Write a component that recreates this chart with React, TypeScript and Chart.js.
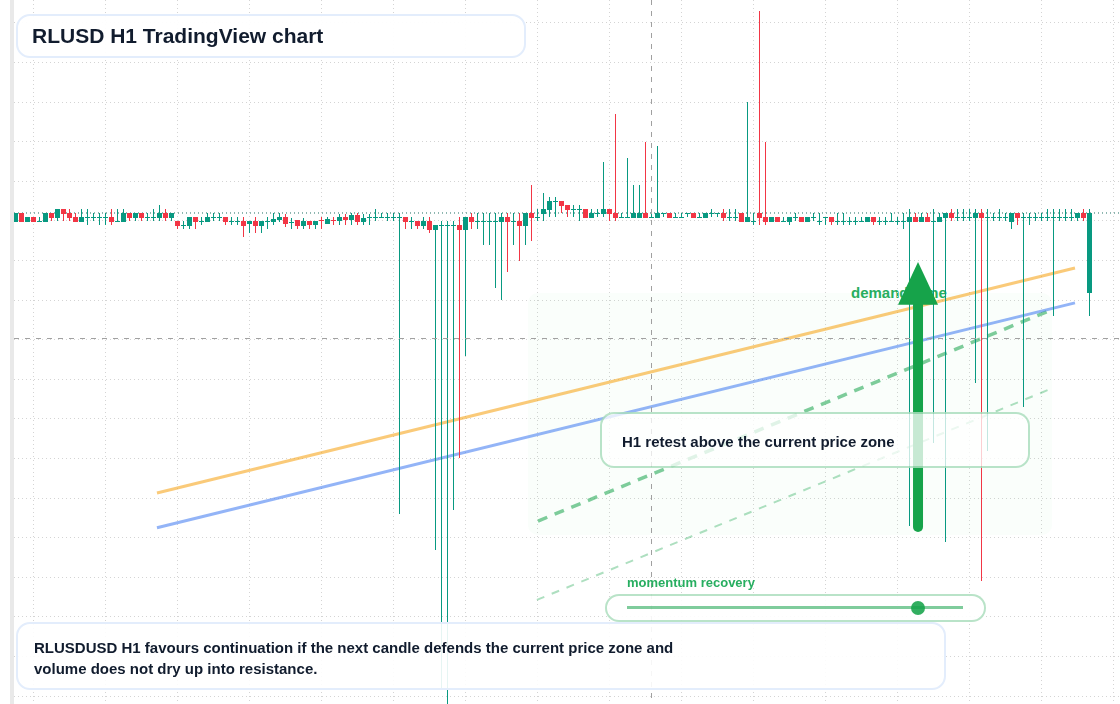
import React, { useEffect, useRef } from "react";
import { Chart, registerables } from "chart.js";

Chart.register(...registerables);

// Candle values in pips above / below 1.0000
const opens = [
  -2.25, 0, -2.25, -1, -2.25, -2.25, 0, -1.25, 1, 0,
  -1, -2.25, -1.25, -1.25, -1.25, -1.25, -1, -2.25, -2.25, 0,
  -1.25, 0, -1.25, -1.25, -1.25, 0, -1.25, -2, -3.25, -3.25,
  -1, -2.25, -2.25, -1.25, -1.25, -1, -2.25, -2.25, -2, -2.75,
  -2, -3.25, -2.25, -2.25, -1.75, -1, -2.5, -1.75, -3.25, -2,
  -3, -1.75, -2.75, -1.75, -2, -1, -1.75, -0.5, -2.25, -1.25,
  -1.25, -1.25, -1.25, -1.25, -1.25, -1, -2.25, -2, -3.25, -2,
  -4.25, -3.25, -3.25, -3.25, -3, -4.25, -1, -2.25, -2.25, -2.25,
  -2.25, -2.25, -1, -2.25, -2, -3.25, 0, -1.25, -0.25, 0.75,
  2.75, 3, 2, 0.75, 0.75, 1, -1.25, -0.25, -0.25, 1,
  0, -1.25, -1.25, -1.25, -1.25, 0, -1.25, -1.25, -0.25, 0,
  -1.25, -1.25, -0.25, 0, -1.25, -1.25, -0.25, -0.25, 0, -1.25,
  -1.25, 0, -2.25, -2.25, 0, -1, -2.25, -1, -2.25, -2.25,
  -1.25, -1, -2.25, -1.25, -2.25, -1.25, -1, -2.25, -2.25, -2.25,
  -2.25, -2.25, -2.25, -1, -2.25, -2.25, -2.25, -2.25, -2.25, -2.25,
  -1, -2.25, -1, -2.25, -2.25, -1.25, 0, -1.25, -1.25, -1.25,
  -1.25, 0, -1.25, -1.25, -1.25, -1.25, -2.25, 0, -1.25, -1.25,
  -1.25, -1.25, -1.25, -1.25, -1.25, -1.25, -1.25, -1.25, 0, -20.2,
];
const closes = [
  0, -2.25, -1, -2.25, -2, 0, -1.25, 1, -0.25, -1.25,
  -2.25, -1, -1, -1, -1, -1, -2.25, -2, 0, -1.25,
  0, -1.25, -1, -1, 0, -1.25, 0, -3.25, -3, -1,
  -2.25, -2, -1, -1, -1, -2.25, -2, -2, -3.25, -2,
  -3.25, -2, -2, -1.5, -1, -2.75, -2.25, -3.25, -2, -3,
  -2, -2, -1.5, -2, -1, -1.75, -0.5, -2.25, -1.25, -1,
  -1, -1, -1, -1, -1, -2.25, -2, -3.25, -2, -4.25,
  -3, -3, -3, -3, -4.25, -1, -2.25, -2, -2, -2,
  -2, -1, -2.25, -2, -3.25, 0, -1.25, -1, 1, 3,
  3, 1.75, 0.75, 1, 1, -1.25, 0, 0, 1, -0.25,
  -1.25, -1, -1, 0, 0, -1.25, -1, 0, 0, -1.25,
  -1, -1, 0, -1.25, -1, 0, 0, 0, -1.25, -1,
  -1, -2.25, -1, -2, -1.25, -2.25, -1, -2.25, -2, -1,
  -1, -2.25, -1, -1, -2, -1, -2.25, -2, -2, -2,
  -2, -2, -1, -2.25, -2, -2, -2, -2, -2, -1,
  -2.25, -1, -2.25, -2, -1, 0, -1.25, -1, -1, -1,
  0, -1.25, -1, -1, -1, -1, 0, -1.25, -1, -1,
  -1, -1, -1, -1, -1, -1, -1, 0, -1.25, 0,
];
const highs = [
  0, 0, -1, -1, -1, 0, 0, 1, 1, 1,
  0, 1, 1, 0, 0, 0, 1, 1, 1, 0,
  0, 0, 0, 1, 2, 1, 0, -2, -2, -1,
  -1, -1, 0, 0, 0, -1, -1, -1, -1, -2,
  -1, -2, -1, 0, 0, -0.25, -1.25, -1.75, -1.25, -2,
  -2, -1, -1, -1, -0.25, -0.25, 0, 0, -0.25, -0.25,
  1, 0, 0, 0, 0, -1, -1, -2, -1, -1,
  -3, -2, -2, -2, -1, -1, 0, 0, 0, 0,
  0, 0, 0, 0, 0, 0, 7, 1, 5, 4,
  4, 3, 2, 2, 2, 1, 1, 1, 13, 1,
  25, 0, 14, 7, 7, 18, 0, 17, 0, 0,
  0, 0, 0, 0, 0, 0, 1, 0, 1, 1,
  1, 0, 28, 0, 51, 18, -1, -1, -1, -1,
  0, -1, -1, 0, 0, -1, -1, 0, 0, -1,
  -1, -1, -1, -1, -1, -1, 0, -1, 0, 1,
  0, 0, 0, 1, 0, 0, 1, 1, 1, 1,
  1, 1, 1, 0, 1, 0, 0, 0, 0, 0,
  0, 0, 1, 1, 1, 1, 1, 0, 1, 1,
];
const lows = [
  -2.25, -2.25, -2.25, -2.25, -2.25, -2.25, -2, -2, -2, -2,
  -2.25, -2.25, -3, -2, -3, -3, -3, -2.25, -2.25, -2,
  -2, -2, -2, -2, -2, -2, -2, -4, -4, -4,
  -4, -3, -2.25, -2, -2, -3, -3, -3, -6, -5,
  -5, -5, -4, -3, -2.25, -3.5, -4, -4, -4, -4,
  -4, -4, -2.75, -3, -3, -3, -3, -3, -3, -3,
  -2, -1.25, -2, -2, -76, -4, -4, -4, -4, -5,
  -85, -120, -125, -75, -62, -36, -4, -4, -8, -8,
  -19, -22, -15, -8, -12, -8, -7, -2, -2, -1,
  -1, 0, -1, -1, -2, -1.25, -1.25, -1, -1, -2,
  -2, -1.25, -1.25, -1.25, -1.25, -1.25, -1.25, -1.25, -1, -1.25,
  -1.25, -1.25, -1, -1.25, -1.25, -1.25, -1, -1, -2, -2,
  -2, -2.25, -2.25, -3, -3, -3, -2.25, -2.25, -2.25, -3,
  -2, -2.25, -2.25, -2, -3, -3, -3, -3, -3, -3,
  -3, -2.25, -2.25, -3, -3, -3, -2.25, -3, -4, -79,
  -2.25, -2.25, -2.25, -58, -2.25, -83, -2, -2, -2, -2,
  -43, -93, -60, -2, -2, -2, -4, -3, -49, -3,
  -2, -2, -2, -26, -2, -2, -2, -2, -2, -26,
];

const candleIndex = opens.map((_, i) => i);
const gridPrices = [48, 38, 28, 18, 8, -2, -12, -22, -32, -42, -52, -62, -72, -82, -92, -102, -112, -122];
const gridCandles = [3, 15, 27, 39, 51, 63, 75, 87, 99, 111, 123, 135, 147, 159, 171, 183];

const lastPrice = 0;
const crosshairCandle = 106;
const crosshairPrice = -31.7;
const resistanceLine = [{ x: 23.58, y: -70.7 }, { x: 176.58, y: -13.9 }];
const supportLine = [{ x: 23.58, y: -79.5 }, { x: 176.58, y: -22.7 }];
const retestLine = [{ x: 87.08, y: -77.8 }, { x: 172.08, y: -24.8 }];
const lowerRetestLine = [{ x: 86.9, y: -97.7 }, { x: 172.08, y: -44.7 }];
const demandZone = { fromCandle: 85.4, toCandle: 172.75, top: -20.2, bottom: -81.3 };
const recoveryArrow = { candle: 150.42, tail: -79.3, neck: -23.2, tip: -12.4 };

const GREEN = "#089981";
const RED = "#f23645";
const AXIS_TOP = 53.79;
const AXIS_BOTTOM = -124;

const snapBars = {
  id: "snapBars",
  beforeDatasetsDraw(chart: any) {
    chart.getSortedVisibleDatasetMetas().forEach((meta: any) => {
      if (meta.type !== "bar") return;
      meta.data.forEach((el: any) => {
        el.y = Math.round(el.y);
        el.base = Math.round(el.base);
        if (el.base === el.y) el.base = el.y + 1;
      });
    });
  },
};

const zonePlugin = {
  id: "zonePlugin",
  beforeDatasetsDraw(chart: any) {
    const { ctx, scales } = chart;
    const l = scales.x.getPixelForValue(demandZone.fromCandle);
    const r = scales.x.getPixelForValue(demandZone.toCandle);
    const t = scales.y.getPixelForValue(demandZone.top);
    const b = scales.y.getPixelForValue(demandZone.bottom);
    ctx.save();
    ctx.fillStyle = "rgba(34,197,94,0.025)";
    ctx.beginPath();
    ctx.roundRect(l, t, r - l, b - t, 10);
    ctx.fill();
    ctx.restore();
  },
};

const arrowPlugin = {
  id: "arrowPlugin",
  afterDatasetsDraw(chart: any) {
    const { ctx, scales } = chart;
    const x = scales.x.getPixelForValue(recoveryArrow.candle);
    const tail = scales.y.getPixelForValue(recoveryArrow.tail);
    const neck = scales.y.getPixelForValue(recoveryArrow.neck);
    const tip = scales.y.getPixelForValue(recoveryArrow.tip);
    ctx.save();
    ctx.strokeStyle = "#16a34a";
    ctx.fillStyle = "#16a34a";
    ctx.lineWidth = 10;
    ctx.lineCap = "round";
    ctx.beginPath();
    ctx.moveTo(x, tail);
    ctx.lineTo(x, neck);
    ctx.stroke();
    ctx.beginPath();
    ctx.moveTo(x, tip);
    ctx.lineTo(x + 20, neck);
    ctx.lineTo(x - 20, neck);
    ctx.closePath();
    ctx.fill();
    ctx.restore();
  },
};

const FONT = '"Liberation Sans", Arial, sans-serif';
const INK = "#111c2e";
const LABEL_GREEN = "#27ae60";
const abs = (left: number, top: number, width: number, height: number) => ({
  position: "absolute" as const,
  left,
  top,
  width,
  height,
  boxSizing: "border-box" as const,
});

export default function App() {
  const ref = useRef<HTMLCanvasElement>(null);

  useEffect(() => {
    if (!ref.current) return;
    const isDown = (i: number) => closes[i] < opens[i];
    const chart = new Chart(ref.current, {
      type: "bar",
      data: {
        datasets: [
          {
            type: "line",
            data: resistanceLine,
            borderColor: "rgba(245,158,11,0.55)",
            borderWidth: 3,
            pointRadius: 0,
            order: 6,
          },
          {
            type: "line",
            data: supportLine,
            borderColor: "rgba(59,119,240,0.55)",
            borderWidth: 3,
            pointRadius: 0,
            order: 6,
          },
          {
            type: "line",
            data: retestLine,
            borderColor: "rgba(22,163,74,0.55)",
            borderWidth: 3.5,
            borderDash: [10, 8],
            pointRadius: 0,
            order: 6,
          },
          {
            type: "line",
            data: lowerRetestLine,
            borderColor: "rgba(22,163,74,0.35)",
            borderWidth: 2,
            borderDash: [8, 8],
            pointRadius: 0,
            order: 6,
          },
          {
            type: "line",
            data: [{ x: -0.25, y: lastPrice }, { x: 184.08, y: lastPrice }],
            borderColor: "#1f6f63",
            borderWidth: 1,
            borderDash: [1, 3],
            pointRadius: 0,
            order: 5,
          },
          {
            data: candleIndex.map((i) => ({ x: i, y: [lows[i], highs[i]] })),
            backgroundColor: candleIndex.map((i) => (isDown(i) ? RED : GREEN)),
            barThickness: 1,
            inflateAmount: 0,
            grouped: false,
            order: 2,
          },
          {
            data: candleIndex.map((i) => ({ x: i, y: [opens[i], closes[i]] })),
            backgroundColor: candleIndex.map((i) => (isDown(i) ? RED : GREEN)),
            barThickness: 5,
            inflateAmount: 0,
            grouped: false,
            order: 1,
          },
          {
            type: "line",
            data: [{ x: -0.25, y: crosshairPrice }, { x: 184.08, y: crosshairPrice }],
            borderColor: "#a0a0a0",
            borderWidth: 1,
            borderDash: [5, 6],
            pointRadius: 0,
            order: 0,
          },
          {
            type: "line",
            data: [{ x: crosshairCandle, y: AXIS_TOP }, { x: crosshairCandle, y: AXIS_BOTTOM }],
            borderColor: "#a0a0a0",
            borderWidth: 1,
            borderDash: [5, 6],
            pointRadius: 0,
            order: 0,
          },
        ] as any,
      },
      options: {
        responsive: false,
        animation: false,
        devicePixelRatio: 1,
        layout: { padding: { left: 14, right: 0, top: 0, bottom: 0 } },
        plugins: { legend: { display: false }, tooltip: { enabled: false } },
        scales: {
          x: {
            type: "linear",
            min: -0.25,
            max: 184.083,
            offset: false,
            afterBuildTicks: (axis: any) => {
              axis.ticks = gridCandles.map((value) => ({ value }));
            },
            ticks: { display: false },
            grid: { color: "#d4d4d4", lineWidth: 1, drawTicks: false, offset: false },
            border: { display: false, dash: [1, 3] },
          },
          y: {
            type: "linear",
            min: AXIS_BOTTOM,
            max: AXIS_TOP,
            afterBuildTicks: (axis: any) => {
              axis.ticks = gridPrices.map((value) => ({ value }));
            },
            ticks: { display: false },
            grid: { color: "#d4d4d4", lineWidth: 1, drawTicks: false },
            border: { display: false, dash: [1, 3] },
          },
        },
      } as any,
      plugins: [snapBars, zonePlugin, arrowPlugin],
    });
    return () => chart.destroy();
  }, []);

  return (
    <div
      style={{
        position: "fixed",
        left: 0,
        top: 0,
        width: 1120,
        height: 704,
        overflow: "hidden",
        background: "#fff",
        fontFamily: FONT,
        fontWeight: 700,
      }}
    >
      <div style={{ ...abs(10, 0, 4, 704), background: "#e9e9e9" }} />
      <div
        style={{
          ...abs(851, 284, 110, 18),
          color: LABEL_GREEN,
          fontSize: 15,
          lineHeight: "18px",
          whiteSpace: "nowrap",
        }}
      >
        demand zone
      </div>
      <canvas
        ref={ref}
        width={1120}
        height={704}
        style={{ position: "absolute", left: 0, top: 0, width: 1120, height: 704, display: "block" }}
      />
      <div
        style={{
          ...abs(16, 14, 510, 44),
          border: "2px solid #e3edfc",
          borderRadius: 14,
          background: "rgba(255,255,255,0.94)",
          color: INK,
          fontSize: 21,
          lineHeight: "40px",
          paddingLeft: 14,
          whiteSpace: "nowrap",
        }}
      >
        RLUSD H1 TradingView chart
      </div>
      <div
        style={{
          ...abs(16, 622, 930, 68),
          border: "2px solid #e3edfc",
          borderRadius: 14,
          background: "rgba(255,255,255,0.9)",
          color: INK,
          fontSize: 15,
          lineHeight: "20.5px",
          padding: "14px 0 0 16px",
          whiteSpace: "nowrap",
        }}
      >
        RLUSDUSD H1 favours continuation if the next candle defends the current price zone and
        <br />
        volume does not dry up into resistance.
      </div>
      <div
        style={{
          ...abs(600, 412, 430, 56),
          border: "2px solid rgba(22,163,74,0.3)",
          borderRadius: 14,
          background: "rgba(255,255,255,0.76)",
          color: INK,
          fontSize: 15,
          lineHeight: "55px",
          paddingLeft: 20,
          whiteSpace: "nowrap",
        }}
      >
        H1 retest above the current price zone
      </div>
      <div
        style={{
          ...abs(627, 574, 200, 18),
          color: LABEL_GREEN,
          fontSize: 13,
          lineHeight: "18px",
          whiteSpace: "nowrap",
        }}
      >
        momentum recovery
      </div>
      <div
        style={{
          ...abs(605, 594, 381, 28),
          border: "2px solid rgba(22,163,74,0.3)",
          borderRadius: 14,
          background: "rgba(255,255,255,0.9)",
        }}
      />
      <div style={{ ...abs(627, 606, 336, 3), background: "rgba(22,163,74,0.55)" }} />
      <div style={{ ...abs(911, 601, 14, 14), borderRadius: "50%", background: "rgba(22,163,74,0.88)" }} />
    </div>
  );
}
